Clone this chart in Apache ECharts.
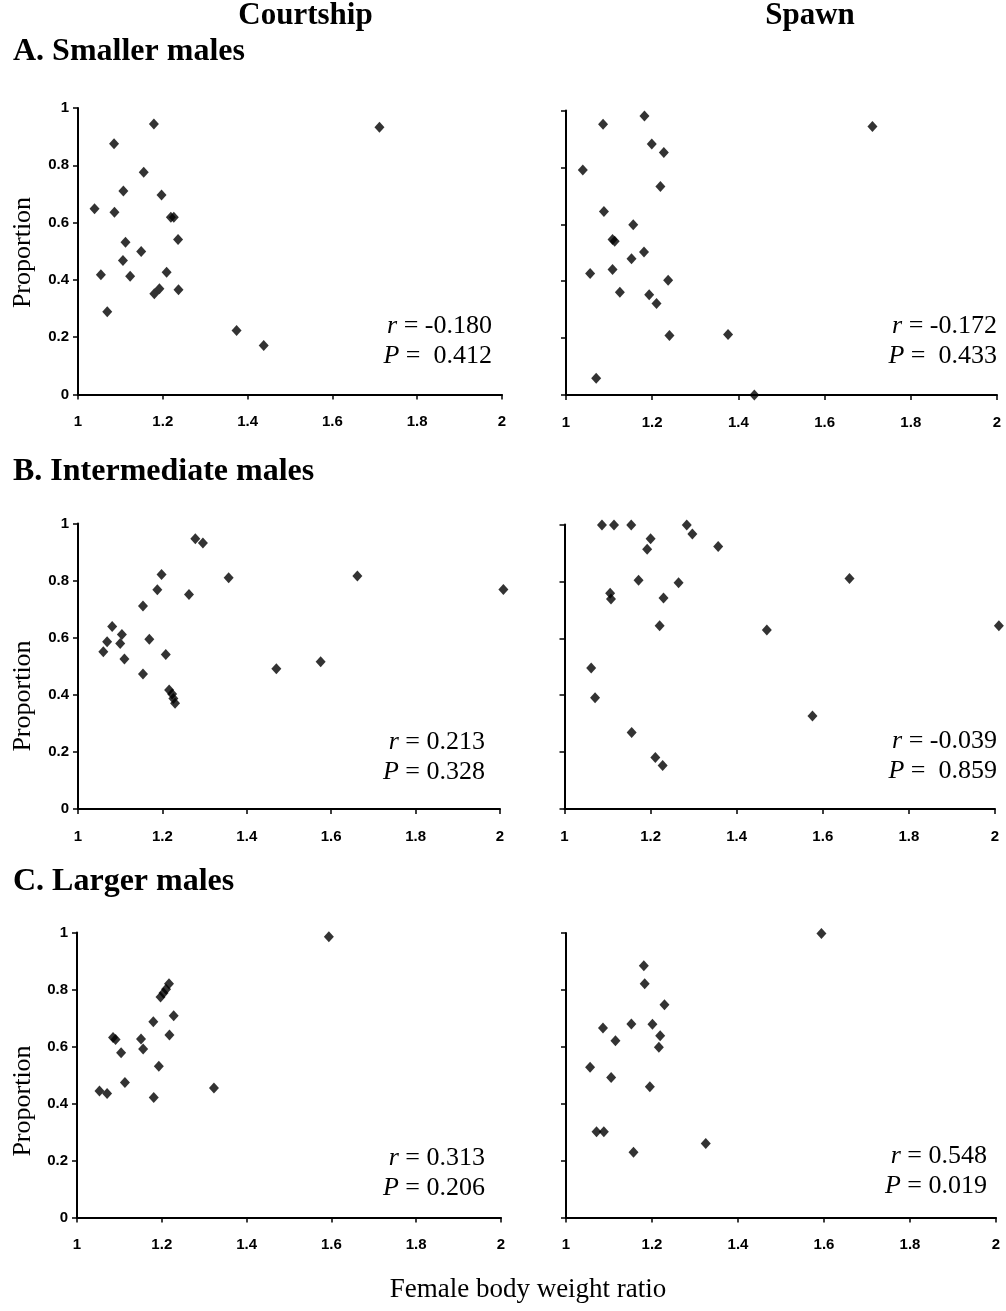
<!DOCTYPE html>
<html>
<head>
<meta charset="utf-8">
<script src="https://cdn.jsdelivr.net/npm/echarts@6/dist/echarts.min.js"></script>
<style>
html,body{margin:0;padding:0;background:#fff;}
#chart{width:1006px;height:1311px;}
</style>
</head>
<body>
<div id="chart"></div>
<script>
// ---- Data (female body weight ratio, proportion) ----
const smallCourtship = [[1.039,0.648],[1.085,0.875],[1.179,0.944],[1.711,0.933],[1.155,0.776],[1.107,0.710],[1.197,0.696],[1.086,0.636],[1.219,0.619],[1.226,0.619],[1.236,0.541],[1.112,0.531],[1.149,0.499],[1.106,0.468],[1.054,0.418],[1.123,0.413],[1.209,0.427],[1.192,0.369],[1.180,0.352],[1.237,0.366],[1.069,0.289],[1.374,0.223],[1.438,0.171]];
const smallSpawn = [[1.182,0.981],[1.086,0.952],[1.711,0.944],[1.199,0.882],[1.227,0.852],[1.039,0.791],[1.219,0.733],[1.088,0.645],[1.156,0.598],[1.108,0.547],[1.113,0.540],[1.181,0.503],[1.152,0.479],[1.056,0.427],[1.108,0.441],[1.237,0.403],[1.125,0.361],[1.193,0.352],[1.210,0.322],[1.240,0.209],[1.376,0.213],[1.070,0.059],[1.437,0.0]];
const intermediateCourtship = [[1.278,0.947],[1.296,0.932],[1.198,0.821],[1.357,0.810],[1.662,0.816],[2.008,0.769],[1.188,0.768],[1.263,0.751],[1.154,0.711],[1.081,0.639],[1.104,0.611],[1.069,0.586],[1.100,0.580],[1.169,0.595],[1.060,0.551],[1.110,0.525],[1.208,0.541],[1.154,0.473],[1.470,0.491],[1.575,0.516],[1.216,0.417],[1.223,0.403],[1.226,0.387],[1.230,0.370]];
const intermediateSpawn = [[1.087,0.998],[1.115,0.998],[1.155,0.998],[1.284,0.998],[1.297,0.967],[1.200,0.950],[1.192,0.913],[1.357,0.923],[1.172,0.804],[1.265,0.795],[1.662,0.810],[1.106,0.758],[1.108,0.738],[1.230,0.742],[1.221,0.644],[1.470,0.629],[2.009,0.644],[1.062,0.496],[1.071,0.391],[1.576,0.327],[1.156,0.269],[1.211,0.181],[1.228,0.153]];
const largeCourtship = [[1.594,0.985],[1.217,0.820],[1.210,0.801],[1.204,0.788],[1.197,0.774],[1.228,0.708],[1.180,0.687],[1.085,0.632],[1.091,0.625],[1.151,0.626],[1.218,0.640],[1.156,0.591],[1.104,0.578],[1.193,0.531],[1.113,0.474],[1.323,0.454],[1.053,0.444],[1.071,0.435],[1.181,0.421]];
const largeSpawn = [[1.594,0.998],[1.181,0.885],[1.183,0.822],[1.229,0.748],[1.152,0.680],[1.201,0.679],[1.086,0.666],[1.219,0.639],[1.115,0.621],[1.216,0.598],[1.056,0.528],[1.105,0.492],[1.195,0.460],[1.071,0.301],[1.088,0.301],[1.325,0.260],[1.157,0.229]];

const rValues = ['-0.180','-0.172','0.213','-0.039','0.313','0.548'];
const pValues = [' 0.412',' 0.433','0.328',' 0.859','0.206','0.019'];

const columnTitles = ['Courtship','Spawn'];
const rowTitles = ['A. Smaller males','B. Intermediate males','C. Larger males'];
const xAxisTitle = 'Female body weight ratio';
const yAxisTitle = 'Proportion';

const xTickMin = 1, xTickMax = 2, xTickStep = 0.2;
const yTickMin = 0, yTickMax = 1, yTickStep = 0.2;

const panelData = [smallCourtship, smallSpawn, intermediateCourtship, intermediateSpawn, largeCourtship, largeSpawn];

// ---- Layout ----
const grids = [
  {left:78, top:108, width:424, height:286.5},
  {left:566, top:110.5, width:431, height:284.5},
  {left:78, top:523.5, width:422, height:285.5},
  {left:564.5, top:524.5, width:430.5, height:284.5},
  {left:77, top:932.5, width:424, height:285},
  {left:566, top:933, width:430, height:284.5}
];
const statPos = [
  {x:492, y1:326, y2:356.5},
  {x:997, y1:326, y2:356.5},
  {x:485, y1:742, y2:772.5},
  {x:997, y1:741, y2:771.5},
  {x:485, y1:1158, y2:1188},
  {x:987, y1:1156, y2:1186.5}
];

const SERIF = '"Liberation Serif","Times New Roman",serif';
const SANS = '"Liberation Sans",Arial,sans-serif';

const chart = echarts.init(document.getElementById('chart'));

const xAxes = grids.map((g,i)=>({
  type:'value', gridIndex:i, min:xTickMin, max:xTickMax, interval:xTickStep,
  axisLine:{show:true, onZero:false, lineStyle:{color:'#000', width:2}},
  axisTick:{show:true, length:5, lineStyle:{color:'#000', width:1.5}},
  splitLine:{show:false},
  axisLabel:{margin:20, fontSize:15, fontWeight:'bold', fontFamily:SANS, color:'#000',
    formatter:v=>String(Math.round(v*10)/10)}
}));
const yAxes = grids.map((g,i)=>({
  type:'value', gridIndex:i, min:yTickMin, max:yTickMax, interval:yTickStep,
  axisLine:{show:true, onZero:false, lineStyle:{color:'#000', width:2}},
  axisTick:{show:true, length:5, lineStyle:{color:'#000', width:1.5}},
  splitLine:{show:false},
  axisLabel:{show: i%2===0, margin:9, fontSize:15, fontWeight:'bold', fontFamily:SANS, color:'#000',
    formatter:v=>String(Math.round(v*10)/10)}
}));
const series = panelData.map((d,i)=>({
  type:'scatter', xAxisIndex:i, yAxisIndex:i, data:d, clip:false,
  symbol:'diamond', symbolSize:[10,11],
  itemStyle:{color:'#000'}, silent:true
}));

const graphics = [];
// column titles
graphics.push({type:'text', style:{text:columnTitles[0], x:305.5, y:16, font:'bold 31px '+SERIF, fill:'#000', textAlign:'center', textVerticalAlign:'middle'}});
graphics.push({type:'text', style:{text:columnTitles[1], x:810, y:16, font:'bold 31px '+SERIF, fill:'#000', textAlign:'center', textVerticalAlign:'middle'}});
// row titles
const rowY = [52, 472, 882];
rowTitles.forEach((t,i)=>graphics.push({type:'text', style:{text:t, x:13, y:rowY[i], font:'bold 32px '+SERIF, fill:'#000', textAlign:'left', textVerticalAlign:'middle'}}));
// y-axis titles
const propY = [252.5, 696, 1101];
propY.forEach(y=>graphics.push({type:'text', x:23, y:y, rotation:Math.PI/2,
  style:{text:yAxisTitle, x:0, y:0, font:'26px '+SERIF, fill:'#000', textAlign:'center', textVerticalAlign:'middle'}}));
// x-axis title
graphics.push({type:'text', style:{text:xAxisTitle, x:528, y:1290, font:'27px '+SERIF, fill:'#000', textAlign:'center', textVerticalAlign:'middle'}});
// statistics
statPos.forEach((p,i)=>{
  graphics.push({type:'text', style:{
    text:'{i|r} = ' + rValues[i], x:p.x, y:p.y1, textAlign:'right', textVerticalAlign:'middle',
    font:'26px '+SERIF, fill:'#000',
    rich:{i:{fontStyle:'italic', fontFamily:SERIF, fontSize:26, fill:'#000'}}
  }});
  graphics.push({type:'text', style:{
    text:'{i|P} = ' + pValues[i], x:p.x, y:p.y2, textAlign:'right', textVerticalAlign:'middle',
    font:'26px '+SERIF, fill:'#000',
    rich:{i:{fontStyle:'italic', fontFamily:SERIF, fontSize:26, fill:'#000'}}
  }});
});

chart.setOption({
  animation:false,
  backgroundColor:'#fff',
  grid:grids.map(g=>Object.assign({containLabel:false}, g)),
  xAxis:xAxes,
  yAxis:yAxes,
  series:series,
  graphic:graphics
});
</script>
</body>
</html>
